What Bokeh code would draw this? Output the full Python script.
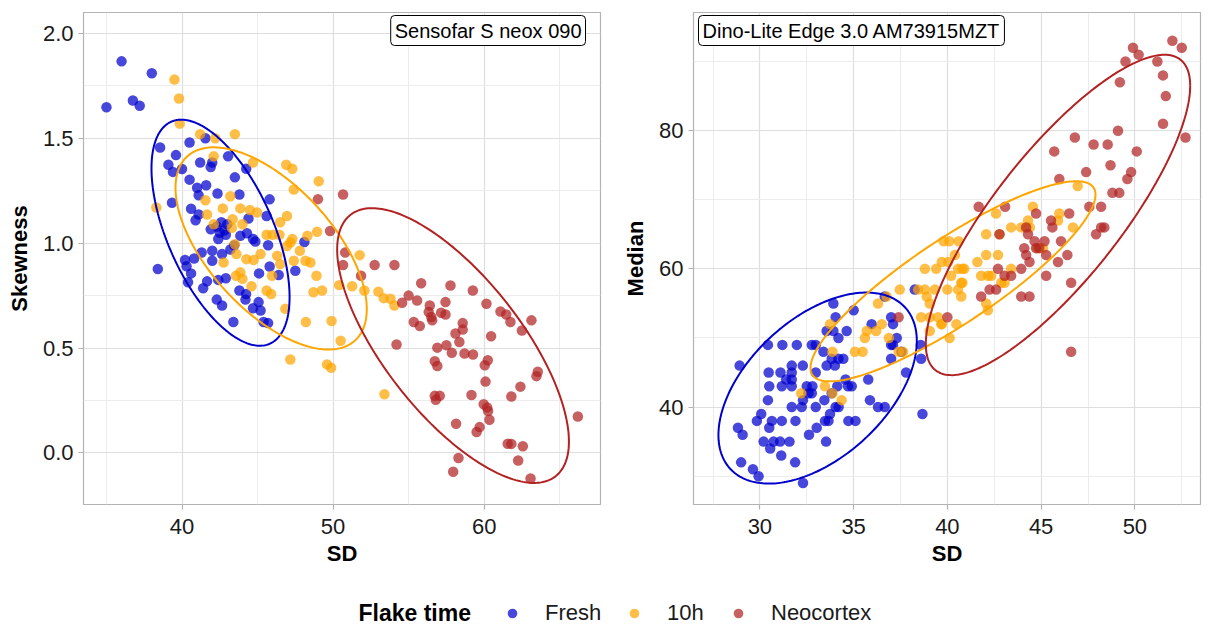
import numpy as np
from bokeh.plotting import figure
from bokeh.layouts import column, row
from bokeh.models import FixedTicker, PrintfTickFormatter, Label, Legend, LegendItem, Range1d
from bokeh.embed import file_html
from bokeh.resources import INLINE

FONT = "Liberation Sans"
groups = ["Fresh", "10h", "Neocortex"]
colors = ["#0000CD", "#FFA500", "#B22222"]

# ---------------- Left panel: Sensofar S neox 090 (SD vs Skewness) ----------------
sensofar_fresh_sd = [36.0, 38.0, 35.0, 36.75, 37.2, 41.55, 40.5, 38.55, 39.6, 39.1, 39.4, 40.0, 41.2, 42.0, 41.9,
                     43.05, 44.25, 43.5, 40.5, 41.0, 41.6, 41.1, 42.35, 43.8, 45.8, 39.34, 40.6, 41.1, 40.9, 44.4,
                     45.6, 42.3, 42.6, 42.8, 43.0, 42.5, 42.9, 41.9, 43.86, 44.7, 38.4, 40.2, 40.3, 40.6, 40.4,
                     40.8, 41.3, 42.0, 42.0, 42.65, 41.66, 41.4, 42.4, 42.9, 42.3, 42.65, 43.4, 43.8, 44.2, 44.24,
                     45.07, 44.7, 45.2, 45.4, 45.7, 45.1, 46.4, 45.8, 47.5, 48.1, 44.85, 45.7, 43.46, 44.3, 42.4, 43.2]
sensofar_fresh_skew = [1.867, 1.81, 1.648, 1.68, 1.655, 1.50, 1.48, 1.456, 1.42, 1.374, 1.34, 1.354, 1.385, 1.385, 1.363,
                       1.414, 1.355, 1.314, 1.303, 1.264, 1.276, 1.229, 1.237, 1.232, 1.209, 1.193, 1.164, 1.137, 1.109, 1.118,
                       1.13, 1.08, 1.10, 1.06, 1.09, 1.05, 1.04, 1.066, 1.035, 1.02, 0.877, 0.92, 0.89, 0.856, 0.814,
                       0.927, 0.956, 0.964, 0.916, 0.948, 0.818, 0.785, 0.825, 0.833, 0.731, 0.703, 0.624, 0.774, 0.731, 0.758,
                       0.719, 0.69, 0.679, 0.624, 0.619, 0.856, 0.848, 0.889, 0.869, 1.006, 1.008, 0.99, 0.99, 1.047, 1.02, 0.97]

sensofar_10h_sd = [39.5, 39.8, 39.85, 43.5, 41.2, 42.2, 42.1, 44.7, 46.9, 47.3, 49.05, 47.4, 41.55, 43.2, 38.3,
                   42.7, 43.86, 44.5, 44.97, 46.95, 46.5, 41.66, 43.35, 42.1, 45.6, 46.0, 46.45, 48.94, 48.3, 47.3,
                   43.3, 44.0, 42.75, 43.5, 43.6, 44.26, 44.74, 43.57, 44.0, 43.86, 44.6, 45.6, 45.9, 45.96, 46.95,
                   47.17, 47.8, 48.17, 48.5, 48.9, 45.2, 46.3, 46.5, 47.4, 48.7, 49.27, 46.84, 48.2, 49.9, 47.17,
                   49.6, 49.87, 50.5, 51.76, 50.4, 51.26, 52.07, 53.0, 53.35, 53.8, 54.06, 53.4]
sensofar_10h_skew = [1.78, 1.69, 1.57, 1.52, 1.52, 1.50, 1.414, 1.385, 1.374, 1.355, 1.295, 1.256, 1.205, 1.224, 1.17,
                     1.166, 1.166, 1.158, 1.146, 1.13, 1.10, 1.137, 1.114, 1.09, 1.04, 1.04, 1.04, 1.054, 1.035, 1.02,
                     1.074, 1.09, 0.908, 0.995, 0.948, 0.924, 0.92, 0.845, 0.83, 0.861, 0.795, 0.774, 0.758, 0.845, 0.987,
                     1.003, 0.964, 0.916, 0.908, 0.845, 0.948, 0.94, 0.9, 0.916, 0.766, 0.774, 0.687, 0.624, 0.629, 0.445,
                     0.422, 0.406, 0.535, 0.943, 0.80, 0.795, 0.774, 0.769, 0.738, 0.735, 0.703, 0.28]

sensofar_neo_sd = [49.0, 50.66, 49.8, 50.8, 50.66, 52.75, 54.06, 51.85, 55.83, 57.77, 59.25, 60.15, 55.0, 55.56, 54.57,
                   57.44, 56.4, 56.33, 56.5, 56.56, 57.15, 57.44, 55.34, 55.74, 58.58, 58.58, 58.1, 58.36, 61.08, 61.46,
                   61.74, 63.13, 62.5, 60.46, 54.2, 56.9, 57.5, 57.86, 58.7, 59.26, 56.73, 56.9, 60.04, 60.24, 60.09,
                   63.46, 63.55, 62.4, 61.8, 56.73, 57.06, 56.8, 59.16, 59.97, 60.2, 60.26, 60.35, 59.7, 59.5, 58.14,
                   66.2, 61.56, 61.8, 62.56, 62.25, 63.07, 58.3, 57.95]
sensofar_neo_skew = [1.21, 1.232, 1.058, 0.956, 0.896, 0.896, 0.896, 0.845, 0.809, 0.798, 0.774, 0.711, 0.75, 0.727, 0.716,
                     0.719, 0.703, 0.672, 0.648, 0.632, 0.668, 0.66, 0.624, 0.605, 0.619, 0.588, 0.569, 0.529, 0.674, 0.66,
                     0.624, 0.632, 0.584, 0.556, 0.517, 0.502, 0.513, 0.477, 0.474, 0.469, 0.437, 0.414, 0.418, 0.442, 0.34,
                     0.366, 0.387, 0.316, 0.269, 0.272, 0.272, 0.253, 0.276, 0.232, 0.217, 0.2, 0.158, 0.123, 0.1, 0.139,
                     0.174, 0.044, 0.043, 0.032, -0.036, -0.122, -0.024, -0.09]

# 95% ellipses: centre x, centre y, sd x, sd y, covariance
sensofar_ellipses = {
    "Fresh": (42.55, 1.05, 4.57, 0.539, -1.40),
    "10h": (45.9, 0.975, 6.33, 0.482, -1.83),
    "Neocortex": (57.94, 0.512, 7.67, 0.655, -3.51),
}

# ---------------- Right panel: Dino-Lite Edge 3.0 (SD vs Median) ----------------
dino_fresh_sd = [28.92, 30.43, 31.2, 31.97, 32.77, 32.98, 33.92, 35.0, 36.66, 34.04, 33.56, 33.92, 34.63, 34.19, 35.96,
                 37.0, 37.1, 37.3, 37.0, 37.1, 37.55, 37.0, 38.58, 38.6, 37.8, 38.67, 33.39, 33.83, 34.19, 34.45,
                 33.56, 34.0, 32.98, 32.29, 31.7, 31.7, 30.47, 31.1, 31.4, 31.7, 31.17, 31.7, 30.5, 30.43, 31.7,
                 32.23, 32.59, 32.77, 32.3, 32.5, 32.8, 32.98, 33.44, 33.83, 34.13, 34.57, 34.7, 34.9, 33.74, 34.04,
                 34.2, 33.66, 33.47, 33.03, 32.62, 35.78, 35.87, 36.3, 36.66, 34.72, 35.1, 33.53, 30.07, 29.84, 30.64,
                 31.17, 30.5, 31.9, 28.83, 29.08, 30.2, 30.73, 31.08, 31.58, 30.55, 31.14, 31.88, 29.0, 29.63, 29.93,
                 32.3, 38.26]
dino_fresh_median = [46, 49, 49, 49, 49, 49, 55, 54, 56, 53, 51, 51, 51, 50, 52,
                     53, 52, 50, 49, 49, 48, 47, 49, 47, 45, 39, 48, 47, 47, 47,
                     46, 46, 45, 46, 46, 45, 45, 45, 44, 44, 43, 43, 43, 41, 40,
                     40, 42, 42, 41, 43, 43, 40, 41, 42, 43, 44, 43, 43, 39, 40,
                     40, 38, 38, 37, 36, 44, 41, 40, 40, 38, 38, 35, 39, 38, 38,
                     38, 37, 38, 37, 36, 35, 35, 35, 35, 34, 33, 32, 32, 31, 30,
                     29, 57]

dino_10h_sd = [33.74, 33.87, 33.47, 32.2, 33.87, 34.36, 35.07, 35.48, 35.6, 35.7, 36.2, 36.5, 36.3, 36.76, 36.88,
               37.4, 37.64, 37.46, 38.44, 38.8, 39.33, 39.06, 38.6, 39.06, 39.5, 39.06, 39.7, 38.9, 40.0, 40.57,
               40.74, 40.74, 40.8, 40.57, 40.9, 38.8, 39.4, 40.04, 40.4, 39.7, 40.2, 40.8, 39.8, 40.1, 40.6,
               41.6, 42.07, 42.7, 41.8, 42.17, 42.34, 42.07, 42.78, 43.4, 42.6, 43.94, 44.4, 44.3, 44.56, 45.9,
               45.97, 46.7, 46.95, 43.4, 42.87, 43.05, 44.8, 45.1, 42.07, 42.16, 40.48, 39.68, 40.12]
dino_10h_median = [52, 48, 43, 42, 42, 41, 48, 48, 50, 51, 51, 52, 55, 56, 50,
                   48, 48, 57, 57, 57, 57, 55, 53, 53, 53, 51, 52, 56, 57, 57,
                   56, 58, 60, 60, 60, 60, 60, 61, 62, 61, 59, 58, 64, 64, 64,
                   61, 62, 62, 59, 59, 59, 65, 65, 66, 68, 66, 66, 67, 69, 67,
                   68, 66, 72, 60, 58, 58, 63, 63, 55, 54, 52, 52, 50]

dino_neo_sd = [37.4, 40.0, 41.67, 43.08, 42.78, 44.73, 45.53, 45.6, 46.06, 46.5, 47.57, 48.2, 47.93, 48.2, 48.37,
               44.2, 44.3, 44.65, 45.18, 44.9, 44.73, 44.1, 44.2, 43.94, 44.38, 45.27, 45.9, 46.4, 45.27, 46.6,
               42.7, 43.05, 43.4, 42.25, 42.6, 41.8, 43.94, 44.38, 46.6, 45.97, 47.4, 48.7, 49.8, 49.6, 48.8,
               49.17, 52.0, 52.5, 49.9, 50.2, 49.5, 51.2, 51.5, 49.2, 51.65, 51.5, 52.7, 49.1, 46.8, 47.8,
               48.55, 45.7, 50.1]
dino_neo_median = [53, 53, 69, 69, 65, 68, 67, 66, 64, 68, 69, 69, 65, 66, 66,
                   66, 65, 64, 64, 63, 63, 63, 62, 60, 61, 62, 61, 62, 59, 58,
                   60, 59, 59, 57, 57, 56, 56, 56, 48, 73, 74, 75, 74, 73, 71,
                   71, 93, 92, 92, 91, 90, 90, 88, 87, 85, 81, 79, 80, 79, 78,
                   78, 77, 77]

dino_ellipses = {
    "Fresh": (33.08, 42.75, 5.29, 13.82, 36.0),
    "10h": (40.3, 58.2, 7.6, 14.48, 95.2),
    "Neocortex": (45.9, 67.8, 7.05, 23.18, 131.7),
}


def ellipse_path(cx, cy, sx, sy, sxy, n=240):
    cov = np.array([[sx ** 2, sxy], [sxy, sy ** 2]])
    L = np.linalg.cholesky(cov)
    t = np.linspace(0, 2 * np.pi, n)
    pts = L @ np.vstack([np.cos(t), np.sin(t)])
    return cx + pts[0], cy + pts[1]


def style(p, xticks, xminor, yticks, yminor, xlabel, ylabel):
    xt = FixedTicker(ticks=xticks, minor_ticks=xminor)
    yt = FixedTicker(ticks=yticks, minor_ticks=yminor)
    p.xaxis.ticker = xt
    p.xgrid.ticker = xt
    p.yaxis.ticker = yt
    p.ygrid.ticker = yt
    p.xaxis.axis_label = xlabel
    p.yaxis.axis_label = ylabel
    for ax in (p.xaxis[0], p.yaxis[0]):
        ax.axis_line_color = None
        ax.major_tick_line_color = "#b3b3b3"
        ax.major_tick_line_width = 1.2
        ax.major_tick_out = 5
        ax.major_tick_in = 0
        ax.minor_tick_line_color = None
        ax.major_label_text_font = FONT
        ax.major_label_text_font_size = "22px"
        ax.major_label_text_color = "#1a1a1a"
        ax.major_label_standoff = 5
        ax.axis_label_text_font = FONT
        ax.axis_label_text_font_style = "bold"
        ax.axis_label_text_font_size = "22px"
        ax.axis_label_text_color = "#000000"
        ax.axis_label_standoff = 8
    p.xaxis[0].major_label_standoff = 9
    p.xaxis[0].axis_label_standoff = 4
    for g in (p.xgrid[0], p.ygrid[0]):
        g.grid_line_color = "#dedede"
        g.grid_line_width = 1.2
        g.minor_grid_line_color = "#ececec"
        g.minor_grid_line_width = 1
    p.outline_line_color = "#b3b3b3"
    p.outline_line_width = 1.2
    p.background_fill_color = "white"
    p.border_fill_color = "white"


PANEL_H = 568


def panel(width, mbl, mbr, xr, yr):
    return figure(width=width, height=PANEL_H, x_range=Range1d(*xr), y_range=Range1d(*yr),
                  output_backend="svg", toolbar_location=None,
                  min_border_left=mbl, min_border_right=mbr, min_border_top=12,
                  min_border_bottom=PANEL_H - 507)


# Left panel
p1 = panel(620, 83, 20, (33.48, 67.7), (-0.246, 2.10))
style(p1, [40, 50, 60], [35, 45, 55, 65], [0, 0.5, 1, 1.5, 2], [0.25, 0.75, 1.25, 1.75], "SD", "Skewness")
p1.yaxis.formatter = PrintfTickFormatter(format="%.1f")
left_sets = [(sensofar_fresh_sd, sensofar_fresh_skew), (sensofar_10h_sd, sensofar_10h_skew),
             (sensofar_neo_sd, sensofar_neo_skew)]
for (xs, ys), c in zip(left_sets, colors):
    p1.scatter(xs, ys, size=10.5, fill_color=c, fill_alpha=0.72, line_color=None)
for g, c in zip(groups, colors):
    ex, ey = ellipse_path(*sensofar_ellipses[g])
    p1.line(ex, ey, line_color=c, line_width=2)
p1.add_layout(Label(x=502, y=489, x_units="screen", y_units="screen", text="Sensofar S neox 090",
                    text_align="right", text_baseline="top", text_font=FONT, text_font_size="20px",
                    text_color="black", background_fill_color="white", border_line_color="black",
                    border_line_width=1, padding=4, border_radius=4))

# Right panel
p2 = panel(592, 72, 12, (26.46, 53.5), (25.9, 97.1))
style(p2, [30, 35, 40, 45, 50], [27.5, 32.5, 37.5, 42.5, 47.5, 52.5], [40, 60, 80], [30, 50, 70, 90], "SD", "Median")
right_sets = [(dino_fresh_sd, dino_fresh_median), (dino_10h_sd, dino_10h_median), (dino_neo_sd, dino_neo_median)]
for (xs, ys), c in zip(right_sets, colors):
    p2.scatter(xs, ys, size=10.5, fill_color=c, fill_alpha=0.72, line_color=None)
for g, c in zip(groups, colors):
    ex, ey = ellipse_path(*dino_ellipses[g])
    p2.line(ex, ey, line_color=c, line_width=2)
p2.add_layout(Label(x=5, y=489, x_units="screen", y_units="screen", text="Dino-Lite Edge 3.0 AM73915MZT",
                    text_align="left", text_baseline="top", text_font=FONT, text_font_size="20px",
                    text_color="black", background_fill_color="white", border_line_color="black",
                    border_line_width=1, padding=4, border_radius=4))

# Legend strip
LEG_H = 626 - PANEL_H
lg = figure(width=1212, height=LEG_H, x_range=Range1d(0, 1212), y_range=Range1d(0, LEG_H),
            output_backend="svg", toolbar_location=None, x_axis_type=None, y_axis_type=None,
            min_border=0)
lg.grid.visible = False
lg.outline_line_color = None
lg.add_layout(Label(x=358, y=14, x_units="screen", y_units="screen", text="Flake time",
                    text_baseline="middle", text_align="left", text_font=FONT,
                    text_font_style="bold", text_font_size="23px", text_color="black"))
legend_x = [500, 622, 726]
for g, c, lx in zip(groups, colors, legend_x):
    # a single off-screen sample so that the legend can draw its key
    r = lg.scatter(x=[-1000], y=[-1000], size=10, fill_color=c, fill_alpha=0.72, line_color=None)
    leg = Legend(items=[LegendItem(label=g, renderers=[r])], location=(lx, 0), orientation="horizontal",
                 padding=0, margin=0, glyph_width=24, glyph_height=24, label_standoff=21, label_height=24,
                 border_line_color=None, background_fill_alpha=0, label_text_font=FONT,
                 label_text_font_size="22px", label_text_color="#1a1a1a")
    lg.add_layout(leg)

layout = column(row(p1, p2), lg)
open("out.html", "w").write(file_html(layout, INLINE))
